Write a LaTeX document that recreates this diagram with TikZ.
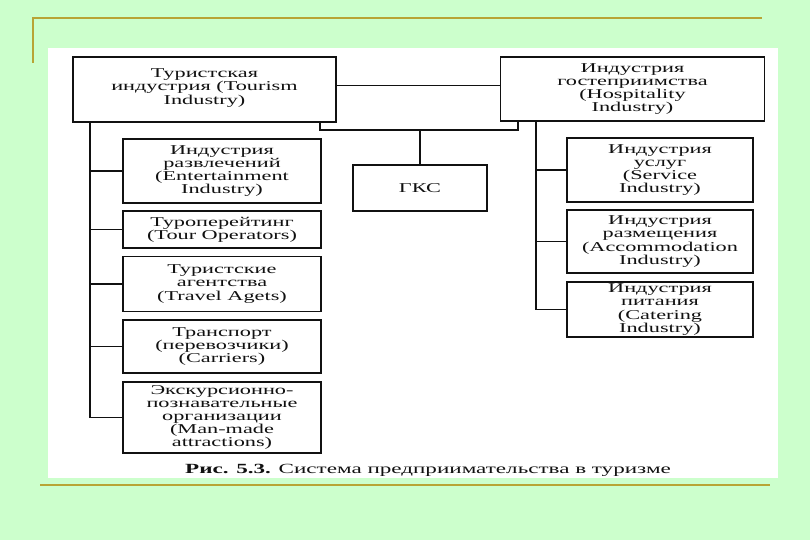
\documentclass[tikz,border=0pt]{standalone}
\usepackage{fontspec}
\setmainfont{Liberation Serif}
\newfontfamily\scanfont[FakeStretch=1.65]{Liberation Serif}
\usetikzlibrary{calc,positioning}
\usepackage{xcolor}
\definecolor{slidegreen}{HTML}{CCFFCC}
\definecolor{rulegold}{HTML}{B8A435}
\definecolor{inkblack}{HTML}{111111}

\begin{document}
\begin{tikzpicture}[x=1pt, y=-1pt,
    every node/.style={font=\scanfont\fontsize{13.5}{13.2}\selectfont, text=inkblack},
    orgbox/.style={draw=inkblack, line width=1.3pt, fill=white, align=center,
                   inner sep=0pt},
    link/.style={draw=inkblack, line width=1.1pt},
    goldrule/.style={draw=rulegold, line width=2.6pt}
  ]
  % Slide background
  \fill[slidegreen] (0,0) rectangle (810,540);
  \useasboundingbox (0,0) rectangle (810,540);
  \fill[white] (48,48) rectangle (778,478);
  \draw[goldrule] (33,63) -- (33,18) -- (762,18);
  \draw[goldrule] (40,485) -- (770,485);

  % Top level
  \node[orgbox, minimum width=263, minimum height=65] (tour) at (204.5,89.5)
    {Туристская\\индустрия (Tourism\\Industry)\\[-7pt]};
  \node[orgbox, minimum width=264, minimum height=64] (hosp) at (632.5,89)
    {Индустрия\\гостеприимства\\(Hospitality\\Industry)};
  \node[orgbox, minimum width=134, minimum height=46] (gks) at (420,188)
    {ГКС};

  % Left column
  \def\lw{198}
  \foreach \nm/\cy/\bh/\txt in {
    ent/171/64/{Индустрия\\развлечений\\(Entertainment\\Industry)},
    tourop/229.5/37/{Туроперейтинг\\(Tour Operators)},
    agent/284/55/{Туристские\\агентства\\(Travel Agets)},
    transp/346.5/53/{Транспорт\\(перевозчики)\\(Carriers)},
    exc/417.5/71/{Экскурсионно-\\познавательные\\организации\\(Man-made\\attractions)}%
  }{
    \node[orgbox, minimum width=\lw, minimum height=\bh] (\nm) at (222,\cy) {\txt};
  }

  % Right column
  \def\rw{186}
  \foreach \nm/\cy/\bh/\txt in {
    serv/170/64/{Индустрия\\услуг\\(Service\\Industry)},
    accom/241.5/63/{Индустрия\\размещения\\(Accommodation\\Industry)},
    cater/309.5/55/{Индустрия\\питания\\(Catering\\Industry)}%
  }{
    \node[orgbox, minimum width=\rw, minimum height=\bh] (\nm) at (660,\cy) {\txt};
  }

  % Connectors
  \coordinate (ltrunk) at (90,122);
  \coordinate (rtrunk) at (536,121);
  \coordinate (tdrop) at (320,122);
  \coordinate (hdrop) at (518,121);
  \coordinate (bus) at (420,130);

  \draw[link, line width=0.8pt] (tour.east |- 0,85) -- (hosp.west |- 0,85);
  \draw[link] (tdrop) |- (bus) -| (hdrop);
  \draw[link] (bus) -- (gks.north);

  \draw[link] (ltrunk) |- (exc.west);
  \foreach \nm in {ent,tourop,agent,transp}
    \draw[link] (\nm.west) -- (\nm.west -| ltrunk);

  \draw[link] (rtrunk) |- (cater.west);
  \foreach \nm in {serv,accom}
    \draw[link] (\nm.west) -- (\nm.west -| rtrunk);

  % Caption
  \node[font=\scanfont\fontsize{14}{14}\selectfont] (caption) at (428,470)
    {\textbf{Рис. 5.3.} Система предприимательства в туризме};
\end{tikzpicture}
\end{document}
